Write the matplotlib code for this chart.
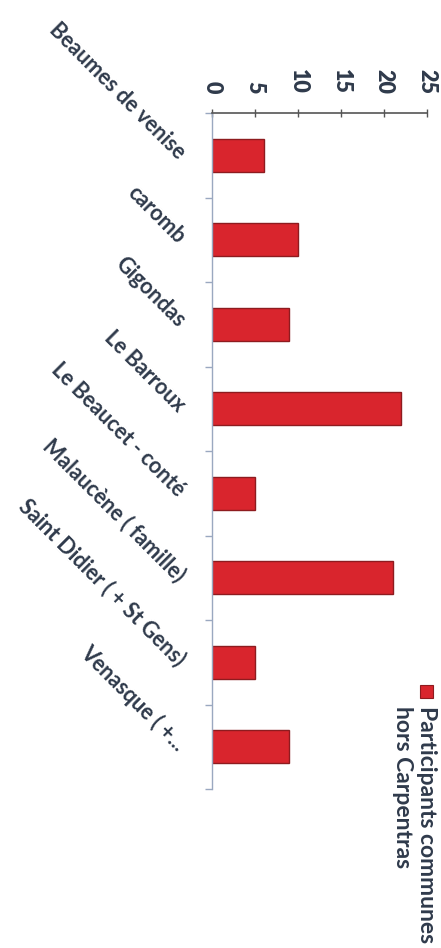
import matplotlib
matplotlib.use("Agg")
import matplotlib.pyplot as plt
from matplotlib.patches import Rectangle

categories = ["Beaumes de venise", "caromb", "Gigondas", "Le Barroux",
              "Le Beaucet - conté", "Malaucène ( famille)",
              "Saint Didier ( + St Gens)", "Venasque ( +..."]
values = [6, 10, 9, 22, 5, 21, 5, 9]
value_ticks = [0, 5, 10, 15, 20, 25]
legend_label = "Participants communes\nhors Carpentras"

TEXT = "#2f3a4b"
BAR = "#d9252d"
EDGE = "#8e1b1f"

plt.rcParams["font.family"] = ["Lato", "DejaVu Sans"]
plt.rcParams["font.weight"] = "bold"

fig = plt.figure(figsize=(4.41, 9.48), dpi=100)
ax = fig.add_axes([0.481, 0.1677, 0.968 - 0.481, 0.8808 - 0.1677])

ypos = list(range(len(categories)))
ax.barh(ypos, values, height=0.39, color=BAR, edgecolor=EDGE, linewidth=1.0)

ax.set_xlim(0, 25)
ax.set_ylim(len(categories) - 0.5, -0.5)

ax.xaxis.tick_top()
ax.set_xticks(value_ticks)
ax.set_xticklabels([str(v) for v in value_ticks], rotation=-90, fontsize=15.5,
                   color=TEXT, fontweight="heavy")
ax.tick_params(axis="x", which="major", direction="inout", length=6, width=1,
               color="#555555", pad=11)

ax.set_yticks(ypos)
ax.set_yticklabels(categories, rotation=-45, rotation_mode="anchor",
                   ha="right", va="center", fontsize=15.5, color=TEXT,
                   fontweight="bold")
ax.tick_params(axis="y", which="major", length=0, pad=22)
ax.set_yticks([i - 0.5 for i in range(len(categories) + 1)], minor=True)
ax.tick_params(axis="y", which="minor", direction="out", length=5, width=1,
               color="#9aa8c0")

for s in ("right", "bottom"):
    ax.spines[s].set_visible(False)
ax.spines["top"].set_color("#555555")
ax.spines["top"].set_linewidth(1.2)
ax.spines["left"].set_color("#9aa8c0")
ax.spines["left"].set_linewidth(1.0)

# legend (rotated)
fig.add_artist(Rectangle((420 / 441, 1 - 698 / 948), 13 / 441, 13 / 948,
                         transform=fig.transFigure, facecolor=BAR,
                         edgecolor=EDGE, linewidth=0.8))
fig.text(437 / 441, 1 - 706 / 948, legend_label, rotation=-90,
         ha="right", va="top", multialignment="left", fontsize=16.5,
         color=TEXT, fontweight="bold", linespacing=1.2)

fig.savefig("out.png", dpi=100, facecolor="white")
